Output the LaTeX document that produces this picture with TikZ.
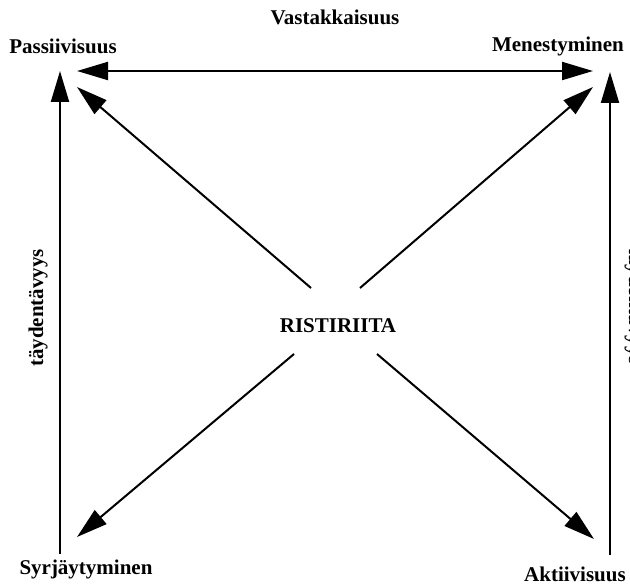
\documentclass[tikz,border=0pt]{standalone}
\usepackage{fontspec}
\setmainfont{Liberation Serif}
\usepackage{tikz}
\usetikzlibrary{
    arrows.meta,
    calc,
    positioning
}

\begin{document}
\begin{tikzpicture}[x=1pt, y=-1pt,
    lbl/.style={font=\fontsize{21}{25}\selectfont\bfseries, inner sep=0pt},
    arr/.style={line width=2pt, -{Triangle[length=31pt, width=18pt]}},
    darr/.style={line width=2pt, {Triangle[length=31pt, width=18pt]}-{Triangle[length=31pt, width=18pt]}}]
                        \useasboundingbox (0, 0) rectangle (630, 586);
                        % labels
                        \node[lbl] (vast) at (335, 17) {Vastakkaisuus};
                        \node[lbl] (pass) at (63, 46) {Passiivisuus};
                        \node[lbl] (mene) at (558, 46) {Menestyminen};
                        \node[lbl] (syrj) at (86, 569) {Syrjäytyminen};
                        \node[lbl] (akti) at (575, 574) {Aktiivisuus};
                        \node[lbl] (rist) at (338, 326) {RISTIRIITA};
                        \node[lbl, rotate=90] (tayL) at (38, 308) {täydentävyys};
                        \node[lbl, rotate=-90, anchor=base west] (tayR) at (629, 247) {täydentävyys};
                        % arrow ends
                        \coordinate (hL) at (77, 71);
                        \coordinate (hR) at (593, 71);
                        \coordinate (vLb) at (60, 554);
                        \coordinate (vLt) at (60, 71);
                        \coordinate (vRb) at (610, 555);
                        \coordinate (vRt) at (610, 72);
                        \coordinate (ulS) at (311, 288);
                        \coordinate (ulT) at (77, 87);
                        \coordinate (urS) at (360, 288);
                        \coordinate (urT) at (593, 87);
                        \coordinate (llS) at (294, 354);
                        \coordinate (llT) at (77, 537);
                        \coordinate (lrS) at (377, 354);
                        \coordinate (lrT) at (594, 539);
                        \draw
                        (hL) edge[darr] (hR)
                        (vLb) edge[arr] (vLt)
                        (vRb) edge[arr] (vRt)
                        (ulS) edge[arr] (ulT)
                        (urS) edge[arr] (urT)
                        (llS) edge[arr] (llT)
                        (lrS) edge[arr] (lrT);
                    \end{tikzpicture}
\end{document}
